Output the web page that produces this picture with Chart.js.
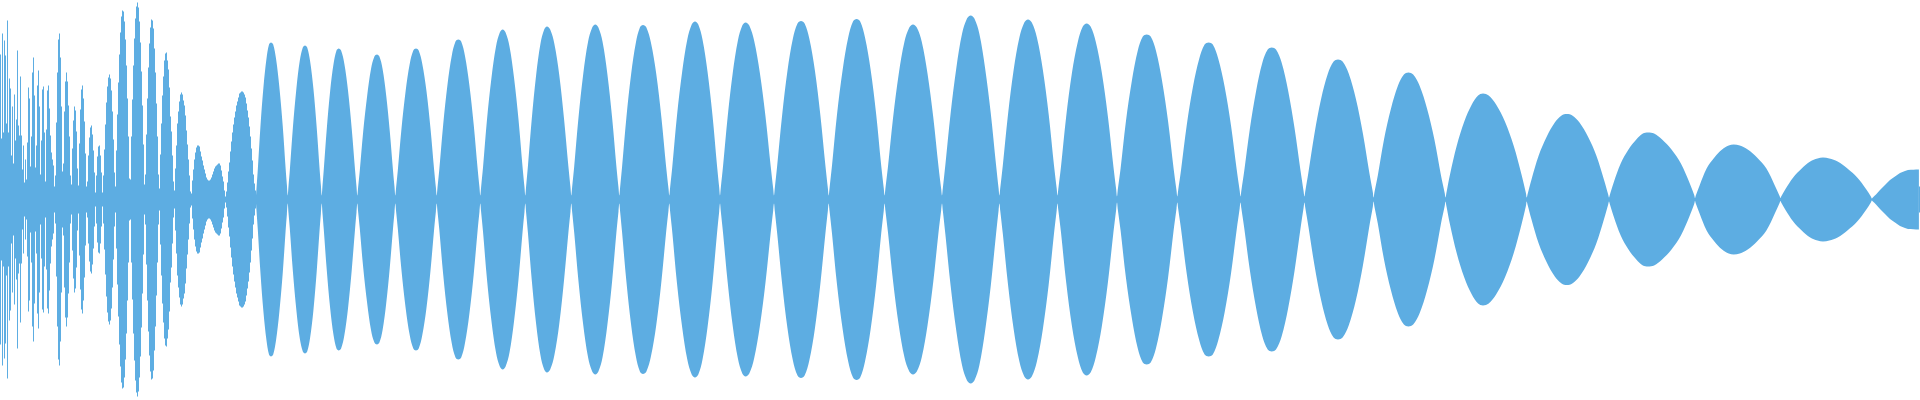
<!DOCTYPE html>
<html>
<head>
<meta charset="utf-8">
<style>html,body{margin:0;padding:0;background:#fff}canvas{display:block}</style>
<script src="https://cdn.jsdelivr.net/npm/chart.js@4/dist/chart.umd.min.js"></script>
</head>
<body>
<canvas id="c" width="1920" height="400" style="width:1920px;height:400px"></canvas>
<script>
// Amplitude of the opening burst, one value per sample column
const burstAmp = [
145,61,166,67,159,144,76,179,67,121,
111,44,93,36,105,59,80,149,74,64,
123,64,30,54,17,40,20,57,112,101,
33,63,127,142,104,32,54,114,129,93,
25,59,110,113,67,18,70,109,114,91,
64,47,40,34,13,24,77,127,160,166,
142,93,28,36,88,118,127,118,94,63,
24,15,51,79,93,89,68,31,14,56,
90,110,114,101,78,46,13,18,44,62,
72,74,65,49,27,7,24,43,53,54,
44,27,7,24,50,75,97,113,122,125,
121,109,88,60,27,13,49,85,117,145,
167,183,189,188,178,160,134,101,63,21,
20,63,100,134,161,181,193,197,192,178,
157,128,94,55,15,25,65,101,132,156,
172,180,179,171,151,127,96,63,25,11,
45,76,104,123,139,146,147,139,130,112,
83,68,44,18,9,31,54,76,88,98,
105,107,105,99,94,84,69,55,
40,24,8,6,19,30,40,47,52,54,
54,53,48,43,39,34,30,26,22,20,
19,19,20,22,25,28,31,33,34,35,
36,36,34,29,23,18,9,3,8,17,
28,37,48,58,67,75,82,88,94,98,
102,106,107,108,108,107,105,102,96,89,
82,73,63,51,39,25,16,9
];

// Sample positions of the beating lobes that follow the burst
const lobeTime = [
256,256.8,257.8,260.5,263.5,266.5,269,271,273.2,276,279.3,282.7,285.7,286.9,
287.7,288.5,289.8,292.9,296.4,299.8,302.8,305,307.2,310,313.4,316.7,319.7,320.9,
321.7,322.5,323.7,326.8,330.2,333.6,336.5,338.7,341.1,344.3,348,351.7,355.1,356.5,
357.3,358.1,359.7,363.2,367.2,371.1,374.4,377,379.4,382.5,386.2,389.8,393.1,394.5,
395.3,396.1,397.8,401.5,405.7,409.8,413.3,416,418.7,422.2,426.4,430.5,434.2,435.9,
436.7,437.5,439.3,443.2,447.5,451.8,455.5,458.3,461.2,464.9,469.3,473.7,477.7,479.5,
480.3,481.1,483,487,491.5,496,499.8,502.7,505.6,509.5,514,518.5,522.6,524.5,
525.3,526.1,527.9,531.8,536.2,540.5,544.2,547,550.2,554.3,559.2,564,568.4,570.5,
571.3,572.1,574.2,578.5,583.3,588.1,592.2,595.3,598.4,602.5,607.3,612.1,616.4,618.5,
619.3,620.1,622.1,626.4,631.2,635.9,639.9,643,646.4,650.9,656.2,661.4,666.1,668.5,
669.3,670.1,672.4,677,682.2,687.3,691.7,695,698.3,702.5,707.5,712.5,717,719.2,
720,720.8,723.1,727.7,732.8,737.9,742.3,745.6,749.3,754.1,759.8,765.5,770.6,773.2,
774,774.8,777.2,782.1,787.5,792.9,797.5,801,804.6,809.3,814.9,820.4,825.4,827.9,
828.7,829.5,832,837,842.7,848.2,853,856.6,860.2,865,870.6,876.2,881.2,883.8,
884.6,885.4,888,893.1,898.8,904.5,909.3,913,916.8,921.7,927.5,933.3,938.5,941.2,
942,942.8,945.4,950.6,956.4,962.1,967,970.7,974.4,979.3,985,990.8,996,998.6,
999.4,1000.2,1002.8,1008,1013.7,1019.4,1024.3,1028,1031.8,1036.9,1042.8,1048.7,1054,1056.7,
1057.5,1058.3,1061,1066.2,1072,1077.9,1082.8,1086.6,1090.6,1095.7,1101.8,1107.9,1113.4,1116.2,
1117,1117.8,1120.6,1125.9,1131.9,1137.8,1142.8,1146.7,1150.7,1155.9,1162,1168.1,1173.6,1176.5,
1177.3,1178.1,1181.1,1186.7,1193,1199.3,1204.6,1208.7,1212.8,1218.2,1224.6,1231,1236.7,1239.7,
1240.5,1241.3,1244.3,1249.9,1256.2,1262.4,1267.7,1271.8,1276,1281.6,1288.1,1294.6,1300.5,1303.6,
1304.4,1305.2,1308.4,1314.5,1321.2,1327.9,1333.6,1338,1342.6,1348.7,1355.8,1362.9,1369.3,1372.8,
1373.6,1374.4,1377.8,1384,1391,1398,1403.9,1408.4,1413.2,1419.5,1427,1434.4,1441,1444.7,
1445.5,1446.3,1450,1456.8,1464.3,1471.8,1478.1,1483,1488.7,1496.1,1504.9,1513.6,1521.5,1525.9,
1526.7,1527.5,1531.5,1538.7,1546.8,1554.8,1561.6,1566.8,1572.3,1579.5,1587.9,1596.3,1603.9,1608.2,
1609,1609.8,1613.7,1620.7,1628.5,1636.3,1642.9,1648,1654.1,1662.1,1671.5,1680.9,1689.4,1694.2,
1695,1695.8,1699.6,1706.6,1714.4,1722.1,1728.7,1733.7,1739.8,1747.7,1757,1766.4,1774.8,1779.6,
1780.4,1781.2,1785.5,1793.2,1801.7,1810.2,1817.5,1823,1829.3,1837.6,1847.4,1857.2,1866,1871,
1871.8,1872.6,1876,1880,1885,1890,1895,1900,1905,1908,1918.9
];

// Amplitude at each of those sample positions
const lobeAmp = [
4,15.5,30,74,113,141,155,157,155,141,113,74,30,14.4,
4,13.5,29,72,111,139,152,154,152,139,111,72,29,14,
4,14,29,71,109,136,149,151,149,136,109,71,29,13,
4,12,28,68,104,131,143,145,143,131,104,68,28,12.7,
4,12,29,71,109,136,149,151,149,136,109,71,29,12,
4,12,30,75,115,144,158,160,158,144,115,75,30,12,
4,12.3,32,80,122,153,167,170,167,153,122,80,32,12.3,
4,13,33,81,125,156,170,173,170,156,125,81,33,12,
4,12,33,82,126,158,172,175,172,158,126,82,33,12,
4,12,33,82,126,157,172,174.5,172,157,126,82,33,11,
4,11.7,34,84,128,160,175,178,175,160,128,84,34,12,
4,11.7,34,83,127,159,174,177,174,159,127,83,34,11,
4,11.5,34,84,129,161,176,178.5,176,161,129,84,34,11,
4,11,34,85,130,162,178,180.5,178,162,130,85,34,11,
4,11,33,82,126,158,172,175,172,158,126,82,33,10.5,
4,11,35,86,132,166,181,184,181,166,132,86,35,11,
4,11,34,85,130,162,177,180,177,162,130,85,34,11,
4,10.5,33,83,127,158,173,176,173,158,127,83,33,10,
3,10,31,78,119,149,163,165,163,149,119,78,31,9.2,
3,8.7,30,74,113,141,155,157,155,141,113,74,30,8.7,
3,8.5,29,71,109,137,150,152,150,137,109,71,29,8.3,
3,7.8,27,66,101,126,138,140,138,126,101,66,27,7.5,
2,7,24,60,91,114,125,127,125,114,91,60,24,6.5,
2,6,25,54,78,95,104,106,104,95,78,54,25,6.5,
2,5,20,44,63,77,84,85.5,84,77,63,44,20,5,
2,4.5,17,36,50,60,66,67,66,60,50,36,17,4.5,
1.5,4,14,31,42,50,54,55,54,50,42,31,14,3.5,
1.5,3,10.5,22,31,38,41,42,41,38,31,22,10.5,2.7,
1,1.8,5,9.5,14.5,19.5,23,26.5,28.5,29.5,30
];
// The last sample column of the recording
const tailTime = [1918.9,1920];
const tailAmp = [13,13];

const WAVE_COLOR = '#5DADE2';

const burstTop = [{x:0,y:burstAmp[0]}].concat(burstAmp.map((v,i)=>({x:i+0.5,y:v})), [{x:256,y:burstAmp[burstAmp.length-1]}]);
const lobeTop = lobeTime.map((t,i)=>({x:t,y:lobeAmp[i]}));
const tailTop = tailTime.map((t,i)=>({x:t,y:tailAmp[i]}));
const mirror = pts => pts.map(p=>({x:p.x,y:-p.y}));

function upper(data, stepped, tension){
  return {data, stepped, tension, fill:'+1', backgroundColor:WAVE_COLOR, borderColor:WAVE_COLOR,
          borderWidth:0, pointRadius:0, pointHoverRadius:0};
}
function lower(data, stepped, tension){
  return {data, stepped, tension, fill:false, backgroundColor:WAVE_COLOR, borderColor:WAVE_COLOR,
          borderWidth:0, pointRadius:0, pointHoverRadius:0};
}

new Chart(document.getElementById('c'), {
  type:'line',
  data:{datasets:[
    upper(burstTop,'middle',0),
    lower(mirror(burstTop),'middle',0),
    upper(lobeTop,false,0.35),
    lower(mirror(lobeTop),false,0.35),
    upper(tailTop,false,0),
    lower(mirror(tailTop),false,0)
  ]},
  options:{
    responsive:false, animation:false, devicePixelRatio:1,
    layout:{padding:0},
    plugins:{legend:{display:false},tooltip:{enabled:false},title:{display:false}},
    scales:{
      x:{type:'linear',min:0,max:1920,display:false},
      y:{type:'linear',min:-200.5,max:199.5,display:false}
    }
  }
});
</script>
</body>
</html>
